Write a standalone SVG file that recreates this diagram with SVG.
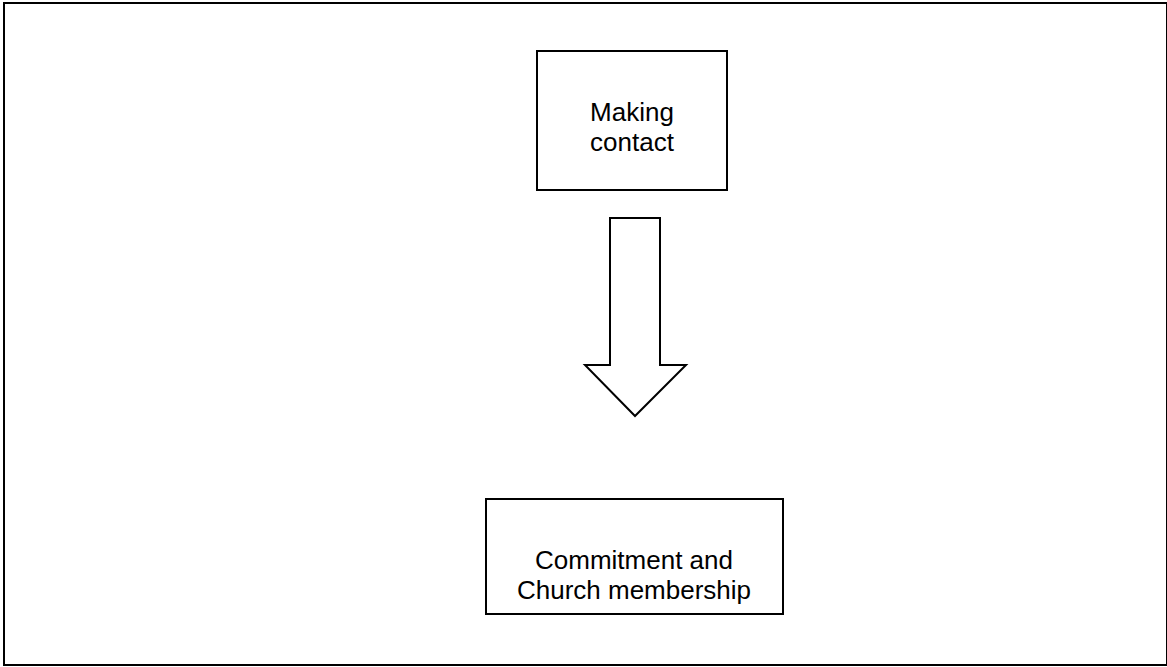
<svg xmlns="http://www.w3.org/2000/svg" width="1167" height="667" viewBox="0 0 1167 667">
<style>
.box{fill:#fff;stroke:#000;stroke-width:2}
.lbl{font-family:"Liberation Sans",Arial,sans-serif;font-size:26px;fill:#000;text-anchor:middle}
</style>
<rect x="0" y="0" width="1167" height="667" fill="#fff"/>
<rect x="4" y="3" width="1163" height="662" fill="none" stroke="#000" stroke-width="2"/>
<g id="node-contact">
<rect class="box" x="537" y="51" width="190" height="139"/>
<text class="lbl" x="632" y="121">Making</text>
<text class="lbl" x="632" y="151">contact</text>
</g>
<g id="connectors">
<path class="box" d="M610,218 H660 V365 H686 L635,416 L585,365 H610 Z"/>
</g>
<g id="node-commitment">
<rect class="box" x="486" y="499" width="297" height="115"/>
<text class="lbl" x="634" y="569">Commitment and</text>
<text class="lbl" x="634" y="599">Church membership</text>
</g>
</svg>
